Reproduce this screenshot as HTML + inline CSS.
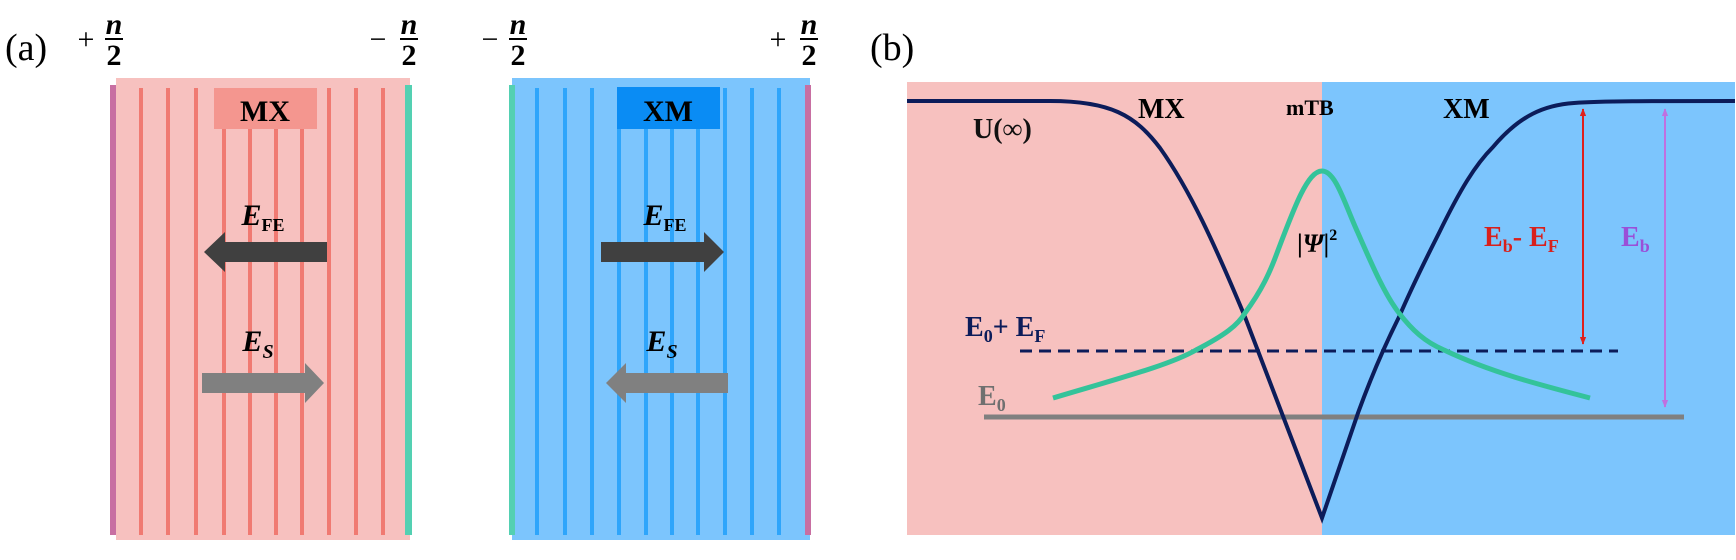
<!DOCTYPE html>
<html><head><meta charset="utf-8"><style>
html,body{margin:0;padding:0;background:#fff;}
svg{display:block;}
text{font-family:"Liberation Serif",serif;}
</style></head><body>
<svg width="1736" height="560" viewBox="0 0 1736 560" xmlns="http://www.w3.org/2000/svg">
<defs>
<marker id="ar" viewBox="0 0 10 10" refX="9" refY="5" markerWidth="8" markerHeight="8" orient="auto-start-reverse" markerUnits="userSpaceOnUse"><path d="M0,1 L10,5 L0,9 z" fill="#e0201c"/></marker>
<marker id="ap" viewBox="0 0 10 10" refX="9" refY="5" markerWidth="8" markerHeight="8" orient="auto-start-reverse" markerUnits="userSpaceOnUse"><path d="M0,1 L10,5 L0,9 z" fill="#c070e0"/></marker>
</defs>

<!-- top labels -->
<text x="5" y="60" font-size="38">(a)</text>
<g font-weight="bold" font-style="italic" font-size="30" text-anchor="middle">
<text x="86" y="49" font-style="normal" font-weight="normal" font-size="30">+</text>
<text x="114" y="34">n</text><rect x="105" y="38" width="18" height="2" fill="#000"/><text x="114" y="65" font-style="normal">2</text>
<text x="378" y="49" font-style="normal" font-weight="normal" font-size="30">−</text>
<text x="409" y="34">n</text><rect x="400" y="38" width="18" height="2" fill="#000"/><text x="409" y="65" font-style="normal">2</text>
<text x="490" y="49" font-style="normal" font-weight="normal" font-size="30">−</text>
<text x="518" y="34">n</text><rect x="509" y="38" width="18" height="2" fill="#000"/><text x="518" y="65" font-style="normal">2</text>
<text x="778" y="49" font-style="normal" font-weight="normal" font-size="30">+</text>
<text x="809" y="34">n</text><rect x="800" y="38" width="18" height="2" fill="#000"/><text x="809" y="65" font-style="normal">2</text>
</g>
<text x="870" y="60" font-size="38">(b)</text>

<!-- pink panel -->
<rect x="116" y="78" width="294" height="462" fill="#f7c1bf"/>
<rect x="110" y="85" width="6" height="450" fill="#c86fa2"/>
<rect x="405" y="85" width="7" height="450" fill="#54d0b2"/>
<g fill="#f07a72">
<rect x="139" y="88" width="4" height="447"/><rect x="166" y="88" width="4" height="447"/><rect x="194" y="88" width="4" height="447"/>
<rect x="222" y="129" width="4" height="406"/><rect x="248" y="129" width="4" height="406"/><rect x="274" y="129" width="4" height="406"/><rect x="300" y="129" width="4" height="406"/>
<rect x="327" y="88" width="4" height="447"/><rect x="354" y="88" width="4" height="447"/><rect x="381" y="88" width="4" height="447"/>
</g>
<rect x="214" y="88" width="103" height="41" fill="#f4968f"/>
<text x="265" y="121" font-size="30" font-weight="bold" text-anchor="middle">MX</text>
<text x="263" y="225" font-size="30" font-weight="bold" font-style="italic" text-anchor="middle">E<tspan font-size="18" font-style="normal" dy="6">FE</tspan></text>
<polygon points="204,252 225,232 225,242 327,242 327,262 225,262 225,272" fill="#404040"/>
<text x="258" y="351" font-size="30" font-weight="bold" font-style="italic" text-anchor="middle">E<tspan font-size="20" dy="7">S</tspan></text>
<polygon points="202,373 305,373 305,363 324,383 305,403 305,393 202,393" fill="#808080"/>

<!-- blue panel -->
<rect x="512" y="78" width="298" height="462" fill="#7cc5fd"/>
<rect x="509" y="85" width="6" height="450" fill="#54d0b2"/>
<rect x="805" y="85" width="6" height="450" fill="#c86fa2"/>
<g fill="#2ea5fb">
<rect x="535" y="88" width="4" height="447"/><rect x="563" y="88" width="4" height="447"/><rect x="590" y="88" width="4" height="447"/>
<rect x="617" y="129" width="4" height="406"/><rect x="644" y="129" width="4" height="406"/><rect x="670" y="129" width="4" height="406"/><rect x="696" y="129" width="4" height="406"/>
<rect x="723" y="88" width="4" height="447"/><rect x="750" y="88" width="4" height="447"/><rect x="777" y="88" width="4" height="447"/>
</g>
<rect x="617" y="87" width="103" height="42" fill="#0a8cf4"/>
<text x="668" y="121" font-size="30" font-weight="bold" text-anchor="middle">XM</text>
<text x="665" y="225" font-size="30" font-weight="bold" font-style="italic" text-anchor="middle">E<tspan font-size="18" font-style="normal" dy="6">FE</tspan></text>
<polygon points="601,242 704,242 704,232 724,252 704,272 704,262 601,262" fill="#404040"/>
<text x="662" y="351" font-size="30" font-weight="bold" font-style="italic" text-anchor="middle">E<tspan font-size="20" dy="7">S</tspan></text>
<polygon points="606,383 626,363 626,373 728,373 728,393 626,393 626,403" fill="#808080"/>

<!-- panel b -->
<rect x="907" y="82" width="415" height="453" fill="#f7c1bf"/>
<rect x="1322" y="82" width="413" height="453" fill="#7cc5fd"/>
<line x1="984" y1="417" x2="1684" y2="417" stroke="#808080" stroke-width="5"/>
<line x1="1020" y1="351" x2="1618" y2="351" stroke="#0c1c5a" stroke-width="3" stroke-dasharray="12,7"/>
<path d="M907,101 L1050,101 C1110,101 1135,115 1160,148 C1190,190 1215,245 1245,317 L1322,518 L1358,413 C1370,380 1385,345 1399,317 C1415,280 1428,255 1439,233 C1460,190 1475,165 1493,147 C1520,115 1545,105 1574,103 C1600,101 1650,101 1735,101" fill="none" stroke="#0c1c5a" stroke-width="4"/>
<path d="M1053,398 C1120,378 1170,365 1196,350 C1225,335 1238,325 1245,313 C1262,290 1270,272 1277,253 C1295,205 1308,171 1322,171 C1336,171 1345,205 1358,233 C1372,265 1385,295 1399,313 C1412,330 1425,342 1444,350 C1490,372 1540,385 1590,398" fill="none" stroke="#34c39a" stroke-width="5"/>
<line x1="1583" y1="109" x2="1583" y2="344" stroke="#e0201c" stroke-width="2" marker-start="url(#ar)" marker-end="url(#ar)"/>
<line x1="1665" y1="109" x2="1665" y2="407" stroke="#c070e0" stroke-width="2" marker-start="url(#ap)" marker-end="url(#ap)"/>
<text x="973" y="138" font-size="28" font-weight="bold" fill="#111">U(∞)</text>
<text x="1138" y="118" font-size="28" font-weight="bold">MX</text>
<text x="1286" y="115" font-size="22" font-weight="bold">mTB</text>
<text x="1443" y="118" font-size="28" font-weight="bold">XM</text>
<text x="1297" y="252" font-size="26" font-weight="bold">|<tspan font-style="italic">Ψ</tspan>|<tspan font-size="16" dy="-12">2</tspan></text>
<text x="1484" y="246" font-size="28" font-weight="bold" fill="#d8201c">E<tspan font-size="18" dy="6">b</tspan><tspan dy="-6">- E</tspan><tspan font-size="18" dy="6">F</tspan></text>
<text x="1621" y="246" font-size="28" font-weight="bold" fill="#9a4fd8">E<tspan font-size="18" dy="6">b</tspan></text>
<text x="965" y="336" font-size="28" font-weight="bold" fill="#0c1c5a">E<tspan font-size="18" dy="6">0</tspan><tspan dy="-6">+ E</tspan><tspan font-size="18" dy="6">F</tspan></text>
<text x="978" y="405" font-size="28" font-weight="bold" fill="#707070">E<tspan font-size="18" dy="6">0</tspan></text>
</svg>
</body></html>
